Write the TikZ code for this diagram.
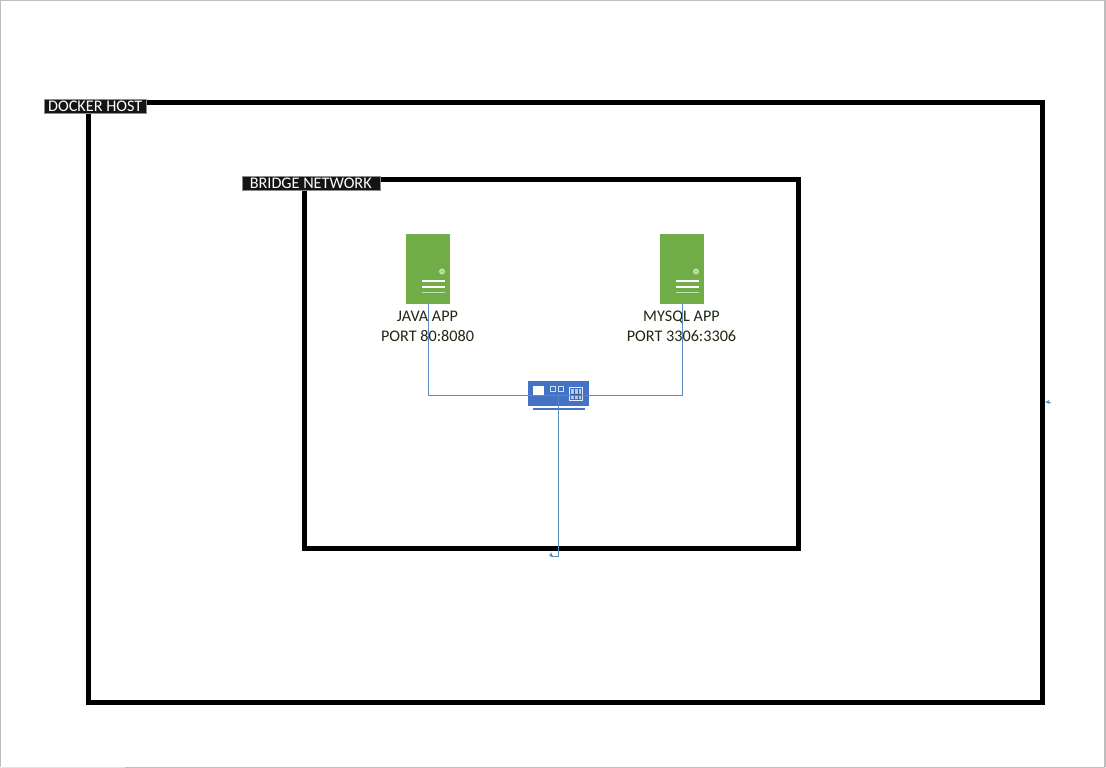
\documentclass[tikz,border=0pt]{standalone}
\usepackage{fontspec}
\setmainfont{Carlito}
\definecolor{srv}{HTML}{70AD47}
\definecolor{srvlight}{HTML}{C5E0B4}
\definecolor{sw}{HTML}{4472C4}
\definecolor{conn}{HTML}{5B8BC0}
\definecolor{lbl}{HTML}{1E2A14}
\definecolor{edge}{HTML}{BDBDBD}
\usetikzlibrary{arrows.meta}
\tikzset{
  x=1pt,y=-1pt,
  hostbox/.style={draw=black,line width=5pt,fill=none,inner sep=0pt,rectangle},
  tagbox/.style={fill=black!92,draw=black!45,line width=0.5pt,text=white,inner sep=0pt,font=\fontsize{16.2}{16.2}\selectfont},
  srvbody/.style={fill=srv,draw=none,inner sep=0pt,minimum width=44pt,minimum height=70pt},
  srvtext/.style={text=lbl,align=center,font=\fontsize{16.2}{20}\selectfont,inner sep=0pt},
  swbody/.style={fill=sw,draw=none,inner sep=0pt,minimum width=61pt,minimum height=25pt},
  wire/.style={draw=conn,line width=0.9pt},
  tiptiny/.style={-{Latex[length=4pt,width=4pt]}}
}
\newcommand{\srvdetail}[1]{%
  \fill[srvlight] (#1+36,271.5) circle (3);
  \fill[srv!70!white] (#1+36,271.5) circle (1.4);
  \draw[white,line width=1.4pt] (#1+16,281) -- (#1+39,281);
  \draw[white,line width=1.4pt] (#1+16,287) -- (#1+39,287);
  \draw[srvlight,line width=1.4pt] (#1+16,292.5) -- (#1+39,292.5);
}
\begin{document}
\begin{tikzpicture}
\useasboundingbox (0,0) rectangle (1106,768);
\fill[white] (0,0) rectangle (1106,768);
% page edge
\draw[edge,line width=1.5pt] (0.5,767) -- (0.5,0.5) -- (1105,0.5) -- (1105,767);
\draw[edge!40,line width=1pt] (0.5,767.5) -- (125,767.5);
\draw[edge,line width=1pt] (125,767.5) -- (1105,767.5);
% frames
\node[hostbox,minimum width=954pt,minimum height=600pt] (host) at (565.5,402) {};
\node[hostbox,minimum width=494.5pt,minimum height=368.5pt] (bridge) at (551.25,363.75) {};
% tags
\node[tagbox,minimum width=102.5pt,minimum height=14pt] (hosttag) at (95.25,106.5) {DOCKER HOST};
\node[tagbox,minimum width=138.5pt,minimum height=14pt] (bridgetag) at (311.25,183.5) {\hspace*{-1pt}BRIDGE NETWORK};
% servers
\node[srvbody] (java) at (428,269) {};
\srvdetail{406}
\node[srvbody] (mysql) at (682,269) {};
\srvdetail{660}
% switch
\node[swbody] (switch) at (558.5,393.5) {};
\fill[sw] (533,408) rectangle (585,410);
\fill[white] (533,386) rectangle (544,396);
\draw[white!75!sw,line width=1pt] (550.5,386.5) rectangle (555,391.5);
\draw[white!75!sw,line width=1pt] (558.5,386.5) rectangle (563,391.5);
\draw[white!85!sw,line width=1pt] (569.5,387.5) rectangle (582.5,400.5);
\fill[white!60!sw] (571,389) rectangle (581,399);
\draw[sw!80!black,line width=0.6pt] (574,389) -- (574,399) (578,389) -- (578,399) (571,394) -- (581,394);
% labels
\node[srvtext] (javalbl) at (427.5,326.5) {JAVA APP\\PORT 80:8080};
\node[srvtext] (mysqllbl) at (681.5,326.5) {MYSQL APP\\PORT 3306:3306};
% connectors
\coordinate (hub) at (558,395);
\draw[wire] (java.south -| 428.5,0) -- (428.5,395) -- (hub);
\draw[wire] (mysql.south -| 682.5,0) -- (682.5,395) -- (hub);
\coordinate (downend) at (551,552);
\draw[wire,tiptiny] (hub) -- (558,556) -- (551,556) -- (downend);
\coordinate (stubA) at (1051,402);
\coordinate (stubB) at (1045,402);
\draw[wire,line width=0.7pt,tiptiny] (stubA) -- (stubB);
\end{tikzpicture}
\end{document}
